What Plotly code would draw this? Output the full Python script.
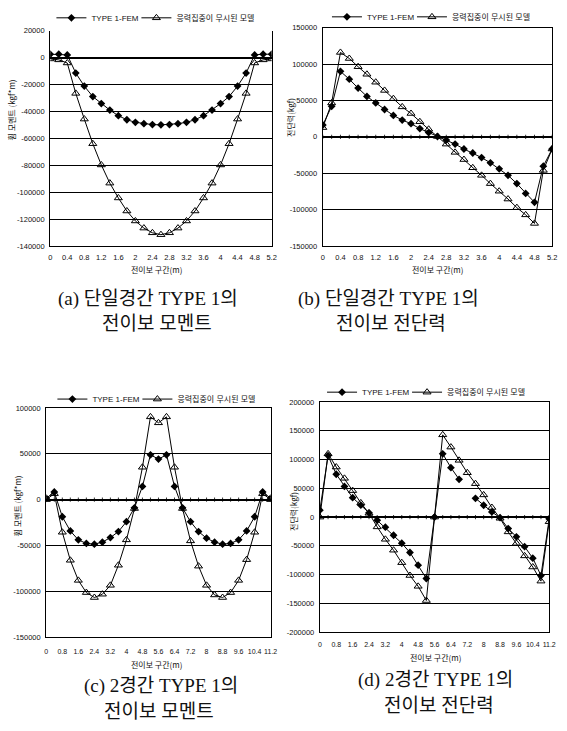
import plotly.graph_objects as go

W, H = 567, 731

# ---------------- data ----------------
x_single = [0.0, 0.2, 0.4, 0.6, 0.8, 1.0, 1.2, 1.4, 1.6, 1.8, 2.0, 2.2, 2.4, 2.6,
            2.8, 3.0, 3.2, 3.4, 3.6, 3.8, 4.0, 4.2, 4.4, 4.6, 4.8, 5.0, 5.2]
x_double = [0.0, 0.4, 0.8, 1.2, 1.6, 2.0, 2.4, 2.8, 3.2, 3.6, 4.0, 4.4, 4.8, 5.2,
            5.6, 6.0, 6.4, 6.8, 7.2, 7.6, 8.0, 8.4, 8.8, 9.2, 9.6, 10.0, 10.4, 10.8, 11.2]

tickvals_single = [0.0, 0.4, 0.8, 1.2, 1.6, 2.0, 2.4, 2.8, 3.2, 3.6, 4.0, 4.4, 4.8, 5.2]
ticktext_single = ["0", "0.4", "0.8", "1.2", "1.6", "2", "2.4", "2.8", "3.2", "3.6",
                   "4", "4.4", "4.8", "5.2"]
tickvals_double = [0.0, 0.8, 1.6, 2.4, 3.2, 4.0, 4.8, 5.6, 6.4, 7.2, 8.0, 8.8, 9.6, 10.4, 11.2]
ticktext_double = ["0", "0.8", "1.6", "2.4", "3.2", "4", "4.8", "5.6", "6.4", "7.2",
                   "8", "8.8", "9.6", "10.4", "11.2"]

ytick_a = [20000, 0, -20000, -40000, -60000, -80000, -100000, -120000, -140000]
ytick_b = [150000, 100000, 50000, 0, -50000, -100000, -150000]
ytick_c = [100000, 50000, 0, -50000, -100000, -150000]
ytick_d = [200000, 150000, 100000, 50000, 0, -50000, -100000, -150000, -200000]

# (a) single span moment
moment_a_fem = [2500, 2500, 2000, -11500, -21200, -29000, -34200, -39000, -43200, -46200,
                -48100, -49100, -49800, -50000, -49800, -49100, -48100, -46200, -43200,
                -39000, -34200, -29000, -21200, -11500, 2000, 2500, 2500]
moment_a_tri = [-1000, -1700, -4000, -26600, -45700, -64000, -79800, -93300, -104300,
                -114000, -121400, -126700, -130200, -131600, -130200, -126700, -121400,
                -114000, -104300, -93300, -79800, -64000, -45700, -26600, -4000, -1700, -1000]
# (b) single span shear
shear_b_fem = [16300, 42000, 90000, 79200, 67000, 55600, 46600, 37600, 29400, 23100, 18100,
               11300, 5900, 500, -4500, -10000, -16700, -22200, -28500, -35700, -43900,
               -52900, -64300, -77800, -90000, -40300, -16700]
shear_b_tri = [12700, 46600, 116000, 107700, 96400, 86000, 75100, 63800, 52500, 41200, 32100,
               20800, 10400, 500, -10000, -21300, -31200, -42500, -52900, -64300, -74700,
               -85500, -97300, -107200, -119000, -46100, -16700]
# (c) two span moment
moment_c_fem = [1500, 8300, -18700, -34200, -43900, -47800, -48600, -46400, -41400, -34900,
                -24100, -9000, 14400, 48900, 44200, 48900, 14400, -9000, -24100, -34900,
                -42100, -46400, -48600, -47800, -43900, -34200, -18700, 8300, 1500]
moment_c_tri = [0, 6500, -35600, -66200, -88100, -101400, -106800, -103200, -93500, -71600,
                -43900, -9700, 35300, 90300, 83800, 90300, 35300, -9700, -45000, -72600,
                -93500, -104000, -106800, -101400, -88100, -65500, -35600, 6500, 0]
# (d) two span shear (FEM has a missing point at 7.2 m)
shear_d_fem = [12000, 107000, 74500, 53400, 33800, 20700, 7500, -5500, -17500, -31500,
               -45400, -61500, -83500, -106700, 0, 110000, 86000, 65700, None, 32700,
               20600, 9000, -1000, -20000, -34200, -51400, -71300, -101600, -3000]
shear_d_tri = [0, 110000, 87000, 67400, 46000, 24700, 6700, -17000, -38600, -57500,
               -79200, -101500, -120300, -145000, 0, 143000, 121700, 98700, 77100, 58100,
               38600, 16700, -2000, -25700, -45600, -67400, -86700, -111300, -8000]

name_fem = "TYPE 1-FEM"
name_tri = "응력집중이 무시된 모델"
ytitle_moment = "휨 모멘트 (kgf*m)"
ytitle_shear = "전단력(kgf)"
xtitle = "전이보 구간(m)"
captions = [("(a) 단일경간 TYPE 1의", "전이보 모멘트"),
            ("(b) 단일경간 TYPE 1의", "전이보 전단력"),
            ("(c) 2경간 TYPE 1의", "전이보 모멘트"),
            ("(d) 2경간 TYPE 1의", "전이보 전단력")]

# ---------------- layout helpers (pixel geometry) ----------------
TICKFONT = dict(family="Liberation Sans Narrow, Arial Narrow, Liberation Sans", size=7.5, color="#111")
XTICKFONT_SMALL = dict(family="Liberation Sans Narrow, Arial Narrow, Liberation Sans", size=7, color="#111")
KFONT = "Noto Sans CJK KR"
CAPFONT = dict(family="Liberation Serif, Noto Sans CJK KR", size=19, color="#111")


def fx(px):
    return px / W


def fy(py):
    return 1 - py / H


panels = [
    dict(box=(49, 274, 27, 245), x=x_single, fem=moment_a_fem, tri=moment_a_tri,
         xr=[0, 5.2], tv=tickvals_single, tt=ticktext_single, tl=4, xf=TICKFONT,
         yr=[-140000, 20000], yt=ytick_a, legend=(163, 14), ytitle=ytitle_moment,
         ytitle_pos=(10, 107), xtitle_pos=(157, 269), cap=(148, 299, 158, 323),
         zero_ticks=False, top_line=False),
    dict(box=(326, 559, 24, 245), x=x_single, fem=shear_b_fem, tri=shear_b_tri,
         xr=[0, 5.2], tv=tickvals_single, tt=ticktext_single, tl=4, xf=TICKFONT,
         yr=[-150000, 150000], yt=ytick_b, legend=(443, 13), ytitle=ytitle_shear,
         ytitle_pos=(293, 115), xtitle_pos=(443, 269), cap=(393, 299, 395, 323),
         zero_ticks=True, top_line=True),
    dict(box=(45, 273, 409, 641), x=x_double, fem=moment_c_fem, tri=moment_c_tri,
         xr=[0, 11.2], tv=tickvals_double, tt=ticktext_double, tl=7, xf=XTICKFONT_SMALL,
         yr=[-150000, 100000], yt=ytick_c, legend=(164, 400), ytitle=ytitle_moment,
         ytitle_pos=(16, 508), xtitle_pos=(157, 669), cap=(162, 690, 160, 716),
         zero_ticks=True, top_line=True),
    dict(box=(323, 556, 403, 636), x=x_double, fem=shear_d_fem, tri=shear_d_tri,
         xr=[0, 11.2], tv=tickvals_double, tt=ticktext_double, tl=5, xf=XTICKFONT_SMALL,
         yr=[-200000, 200000], yt=ytick_d, legend=(438, 393), ytitle=ytitle_shear,
         ytitle_pos=(296, 514), xtitle_pos=(440, 662), cap=(440, 684, 444, 710),
         zero_ticks=True, top_line=True),
]

fig = go.Figure()
annotations = []
layout = dict(width=W, height=H, margin=dict(l=0, r=0, t=0, b=0),
              paper_bgcolor="white", plot_bgcolor="white", showlegend=True)


def ann(text, px, py, font, angle=0):
    return dict(text=text, x=fx(px), y=fy(py), xref="paper", yref="paper",
                xanchor="center", yanchor="middle", showarrow=False,
                textangle=angle, font=font)


for i, p in enumerate(panels):
    k = "" if i == 0 else str(i + 1)
    xa, ya = "x" + k, "y" + k
    lg = "legend" + k
    l, r, t, b = p["box"]
    fig.add_trace(go.Scatter(
        x=p["x"], y=p["fem"], name=name_fem, xaxis=xa, yaxis=ya, legend=lg,
        legendwidth=40, mode="lines+markers", connectgaps=False,
        line=dict(color="black", width=1),
        marker=dict(symbol="diamond", size=6, color="black")))
    fig.add_trace(go.Scatter(
        x=p["x"], y=p["tri"], name=name_tri, xaxis=xa, yaxis=ya, legend=lg,
        legendwidth=92, mode="lines+markers",
        line=dict(color="black", width=1),
        marker=dict(symbol="triangle-up-open", size=7, color="black",
                    line=dict(width=1, color="black"))))
    if p["zero_ticks"]:
        fig.add_trace(go.Scatter(
            x=p["x"], y=[0] * len(p["x"]), xaxis=xa, yaxis=ya, mode="markers",
            showlegend=False, hoverinfo="skip",
            marker=dict(symbol="line-ns", size=3, line=dict(width=0.8, color="black"))))

    layout["xaxis" + k] = dict(
        domain=[fx(l), fx(r)], anchor=ya, range=p["xr"], tickvals=p["tv"],
        ticktext=p["tt"], tickfont=p["xf"], tickangle=0, ticks="outside", ticklen=p["tl"],
        tickcolor="rgba(0,0,0,0)", showgrid=False, zeroline=False,
        showline=True, linecolor="black", linewidth=1.2, mirror=p["top_line"])
    layout["yaxis" + k] = dict(
        domain=[fy(b), fy(t)], anchor=xa, range=p["yr"], tickvals=p["yt"],
        ticktext=[str(v) for v in p["yt"]], tickfont=TICKFONT, ticks="outside",
        ticklen=3, tickcolor="rgba(0,0,0,0)", showgrid=True, gridcolor="black",
        gridwidth=1.3, zeroline=True, zerolinecolor="black", zerolinewidth=1.8,
        showline=True, linecolor="black", linewidth=1.2, mirror=True)
    lx, ly = p["legend"]
    layout[lg] = dict(x=fx(lx), y=fy(ly), xanchor="center", yanchor="middle",
                      orientation="h", bgcolor="rgba(0,0,0,0)", itemwidth=30,
                      font=dict(family="Liberation Sans Narrow, Liberation Sans, Noto Sans CJK KR",
                                size=8, color="#111"),
                      tracegroupgap=0)
    tx, ty = p["ytitle_pos"]
    annotations.append(ann(p["ytitle"], tx, ty, dict(family=KFONT, size=8, color="#111"), -90))
    tx, ty = p["xtitle_pos"]
    annotations.append(ann(xtitle, tx, ty, dict(family=KFONT, size=8, color="#111")))
    c1x, c1y, c2x, c2y = p["cap"]
    annotations.append(ann(captions[i][0], c1x, c1y, CAPFONT))
    annotations.append(ann(captions[i][1], c2x, c2y, CAPFONT))

layout["annotations"] = annotations
fig.update_layout(**layout)
fig.write_html("out.html")
